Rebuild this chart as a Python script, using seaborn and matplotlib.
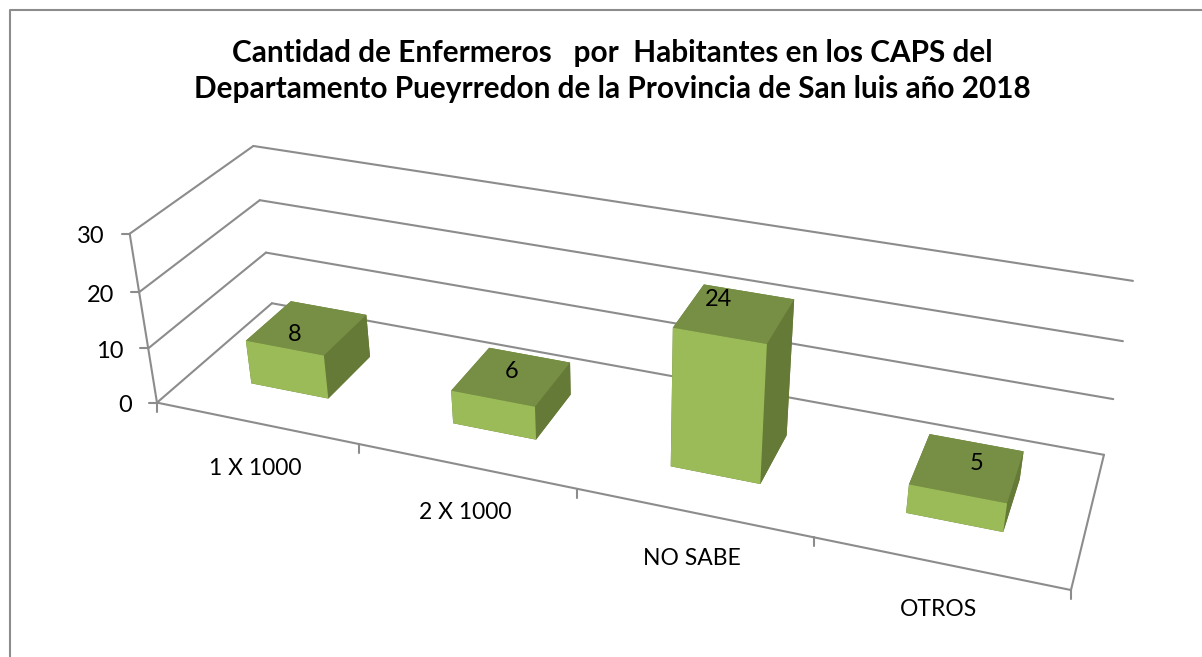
import matplotlib
matplotlib.use('Agg')
import numpy as np
import pandas as pd
import seaborn as sns
from matplotlib import pyplot as plt
from matplotlib.lines import Line2D
from mpl_toolkits.mplot3d import proj3d

categorias = ["1 X 1000", "2 X 1000", "NO SABE", "OTROS"]
enfermeros = [8, 6, 24, 5]
ticks_z = [0, 10, 20, 30]
titulo = ("Cantidad de Enfermeros   por  Habitantes en los CAPS del\n"
          "Departamento Pueyrredon de la Provincia de San luis año 2018")

W, H = 1202, 657
GRIS = "#8c8c8c"
COLOR_FRENTE, COLOR_TOPE, COLOR_LADO = sns.color_palette(["#9BBB59", "#778F44", "#657A36"])

sns.set_theme(style="white")
plt.rcParams['font.family'] = ['Lato', 'DejaVu Sans']

# camara: esquinas de la caja (categoria, fondo, valor) y donde caen en la imagen
caja = [(0, 0, 0), (4, 0, 0), (0, 1, 0), (4, 1, 0), (0, 0, 30), (0, 1, 30), (4, 1, 30),
        (0, 0, 20), (0, 0, 10), (0, 1, 20), (0, 1, 10), (4, 1, 20), (4, 1, 10)]
imagen = [(157, 403), (1071, 590), (272, 303), (1104, 455), (130, 234), (253, 146), (1133, 281),
          (139, 292), (148, 348), (260, 200), (266, 253), (1123, 341), (1113, 399)]


def ajustar_camara(puntos, pixeles):
    filas = []
    for (x, y, z), (u, v) in zip(puntos, pixeles):
        filas.append([x, y, z, 1, 0, 0, 0, 0, -u * x, -u * y, -u * z, -u])
        filas.append([0, 0, 0, 0, x, y, z, 1, -v * x, -v * y, -v * z, -v])
    p = np.linalg.svd(np.array(filas, dtype=float))[2][-1].reshape(3, 4)
    p = p / p[2, 3]
    # la tercera fila solo ordena las caras: lo de mas fondo se pinta primero
    return np.array([p[0], p[1], [-0.05, 1, -0.01, 0], p[2]])


M = ajustar_camara(caja, imagen)

fig = plt.figure(figsize=(W / 100, H / 100), dpi=100, facecolor="white")
# ejes cuadrados (3D fuerza aspecto 1) centrados sobre la figura
ax = fig.add_axes([0, -(W - H) / 2 / H, 1, W / H], projection="3d", computed_zorder=False)
ax.set_axis_off()
ax.patch.set_alpha(0)
ax.get_proj = lambda: M
ax.viewLim.intervalx = (0, W)
ax.viewLim.intervaly = (H - W / 2 - H / 2 + W, H / 2 - W / 2)


def px(x, y, z):
    u, v, _ = proj3d.proj_transform(x, y, z, M)
    return float(u), float(v)


def linea(p, q, **kw):
    ax.add_artist(Line2D([p[0], q[0]], [p[1], q[1]], color=GRIS, lw=1.5,
                         transform=ax.transData, clip_on=False, **kw))


df = pd.DataFrame({"categoria": categorias, "valor": enfermeros})

# paredes y piso
for t in ticks_z:
    linea(px(0, 0, t), px(0, 1, t), zorder=1)
    linea(px(0, 1, t), px(4, 1, t), zorder=1)
    u, v = px(0, 0, t)
    linea((u - 8, v), (u, v), zorder=1)
    ax.annotate(str(t), (u, v), xytext=(-25, -3), textcoords="offset pixels",
                ha="right", va="center", fontsize=17, color="black")
linea(px(0, 0, 0), px(0, 0, 30), zorder=1)
linea(px(0, 0, 0), px(4, 0, 0), zorder=1)
linea(px(4, 0, 0), px(4, 1, 0), zorder=1)
for i in range(5):
    u, v = px(i, 0, 0)
    linea((u, v), (u, v + 9), zorder=1)

# barras
MARGEN = 0.305
Y0, Y1 = 0.29, 0.69
# las etiquetas de Excel no quedan centradas en la tapa
DESPLAZA = [(-12, -7), (0, 5), (-16, 14), (9, 4)]
for i, fila in df.iterrows():
    caras = [COLOR_LADO, COLOR_TOPE, COLOR_FRENTE, COLOR_LADO, COLOR_LADO, COLOR_LADO]
    ax.bar3d(i + MARGEN, Y0, 0, 1 - 2 * MARGEN, Y1 - Y0, fila["valor"], color=caras,
             shade=False, edgecolor="none", zorder=2 + i)
    u, v = px(i + 0.5, (Y0 + Y1) / 2, fila["valor"])
    ax.annotate(str(fila["valor"]), (u, v), xytext=DESPLAZA[i], textcoords="offset pixels",
                ha="center", va="center", fontsize=17, color="black", zorder=10)
    u, v = px(i + 0.5, 0, 0)
    ax.annotate(fila["categoria"], (u, v), xytext=(-1, -46), textcoords="offset pixels",
                ha="center", va="center", fontsize=16.5, color="black", zorder=10)

# marco del grafico
fig.add_artist(Line2D([10 / W, 10 / W, 1], [0, 1 - 10 / H, 1 - 10 / H], color=GRIS, lw=1.5))

fig.text(612 / W, 1 - 71 / H, titulo, ha="center", va="center", fontsize=21.4, fontweight="bold",
         color="black", linespacing=1.37)

fig.savefig("out.png", dpi=100)
